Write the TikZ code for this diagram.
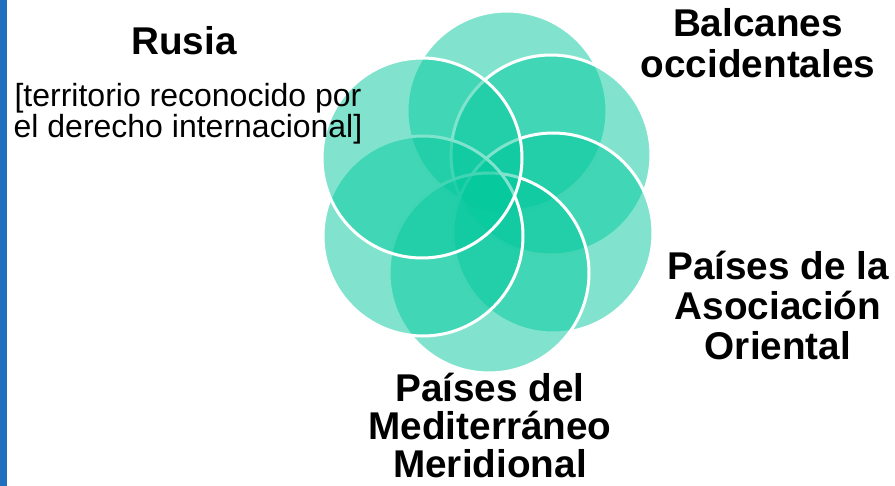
\documentclass[tikz,border=0pt]{standalone}
\usepackage{fontspec}
\setmainfont{Liberation Sans}
\usetikzlibrary{positioning}
\definecolor{petalgreen}{RGB}{3,200,157}
\definecolor{barblue}{RGB}{30,111,189}
\tikzset{
    petal/.style={fill=petalgreen,fill opacity=.5,draw=white,line width=3pt},
    region label/.style={font=\fontsize{38.7}{40}\selectfont\bfseries,align=center,inner sep=0pt,anchor=base},
    note label/.style={font=\fontsize{32}{31}\selectfont,align=center,inner sep=0pt,anchor=base},
}

\begin{document}
\begin{tikzpicture}[x=1pt,y=-1pt]
    \useasboundingbox (0,0) rectangle (895,486);
    \fill[barblue] (0,0) rectangle (7,486);

    % petals, drawn clockwise from the top one
    \foreach \cx/\cy in {507/111,551/155,553/233,489/273,423/236,422/158} {
        \draw[petal] (\cx,\cy) circle[radius=100];
    };

    % labels sit on the baseline of their last line
    \node[region label] (rusia) at (184,55) {Rusia};
    \node[note label] (rusia note) at (188,138) {[territorio reconocido por\\el derecho internacional]};
    \node[region label,font=\fontsize{38.7}{41}\selectfont\bfseries] (balcanes) at (758,78) {Balcanes\\occidentales};
    \node[region label,font=\fontsize{38.7}{40.5}\selectfont\bfseries] (oriental) at (778,360) {Países de la\\Asociación\\Oriental};
    \node[region label,font=\fontsize{38.7}{38}\selectfont\bfseries] (mediterraneo) at (490,477) {Países del\\Mediterráneo\\Meridional};
\end{tikzpicture}
\end{document}
